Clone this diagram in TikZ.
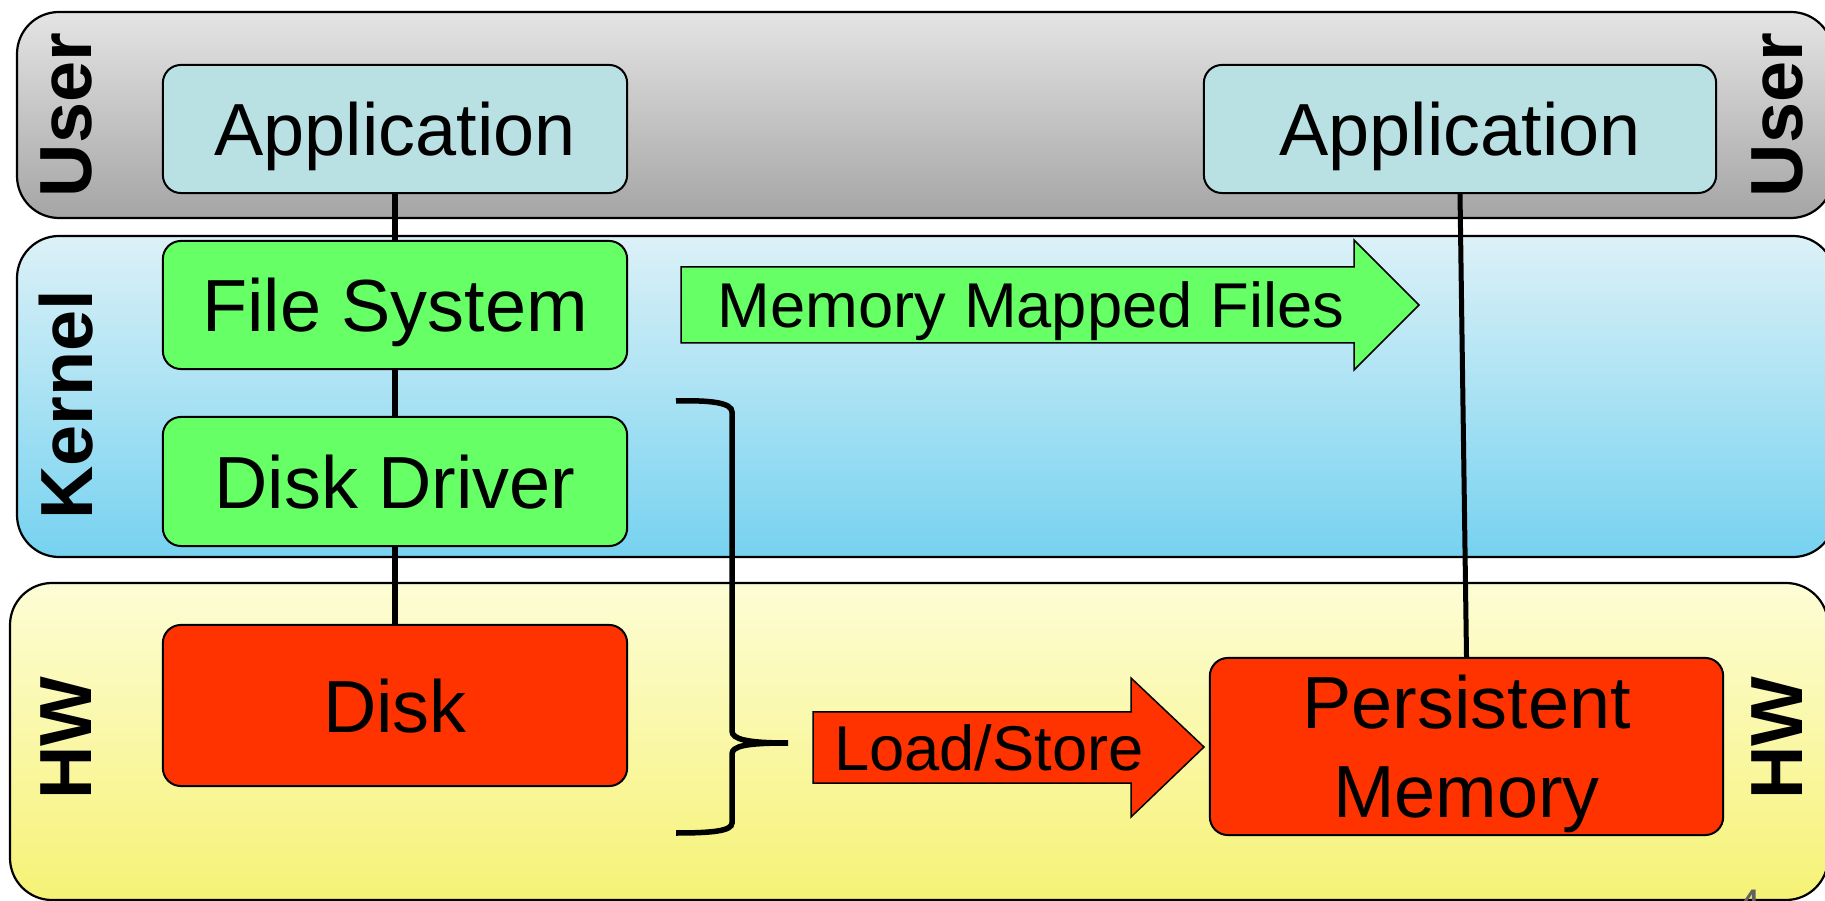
\documentclass[tikz,border=0pt]{standalone}
\usepackage{fontspec}
\setmainfont{Liberation Sans}

\definecolor{usertop}{RGB}{228,228,228}
\definecolor{userbot}{RGB}{165,165,165}
\definecolor{kerntop}{RGB}{220,241,247}
\definecolor{kernbot}{RGB}{118,210,240}
\definecolor{hwtop}{RGB}{253,253,214}
\definecolor{hwbot}{RGB}{246,242,118}
\definecolor{appfill}{RGB}{185,224,227}
\definecolor{kernfill}{RGB}{102,255,102}
\definecolor{hwfill}{RGB}{255,51,0}

\begin{document}
\begin{tikzpicture}[x=0.01cm,y=-0.01cm]
    \tikzstyle{band}=[draw=black, line width=0.022cm, rounded corners=0.42cm]
    \tikzstyle{box}=[draw=black, line width=0.02cm, rounded corners=0.18cm,
        inner sep=0pt, text depth=0pt, align=center,
        font=\fontsize{21}{25.3}\selectfont]
    \tikzstyle{side}=[rotate=90, inner sep=0pt, text depth=0pt,
        font=\fontsize{21}{25}\selectfont\bfseries]
    \tikzstyle{blockarrow}=[draw=black, line width=0.015cm]
    \tikzstyle{arrowtext}=[inner sep=0pt, text depth=0pt,
        font=\fontsize{18}{22}\selectfont]
    \useasboundingbox (0,0) rectangle (1825,901);
    % layers
    \draw [band, top color=usertop, bottom color=userbot] (17,12) rectangle (1833,218);
    \draw [band, top color=kerntop, bottom color=kernbot] (17,236) rectangle (1835,557);
    \draw [band, top color=hwtop, bottom color=hwbot] (10,583) rectangle (1828,900);
    \node [side] (userl) at (66,115) {User};
    \node [side] (kernl) at (66,405) {Kernel};
    \node [side] (hwl) at (66,738) {HW};
    \node [side] (userr) at (1777,115) {User};
    \node [side] (hwr) at (1777,738) {HW};
    % boxes
    \node [box, fill=appfill, minimum width=4.64cm, minimum height=1.28cm] (app1) at (395,129) {Application};
    \node [box, fill=kernfill, minimum width=4.64cm, minimum height=1.28cm] (fs) at (395,305) {File System};
    \node [box, fill=kernfill, minimum width=4.64cm, minimum height=1.29cm] (drv) at (395,481.5) {Disk Driver};
    \node [box, fill=hwfill, minimum width=4.64cm, minimum height=1.61cm] (disk) at (395,705.5) {Disk};
    \node [box, fill=appfill, minimum width=5.12cm, minimum height=1.28cm] (app2) at (1460,129) {Application};
    \node [box, fill=hwfill, minimum width=5.13cm, minimum height=1.77cm] (pmem) at (1466.5,746.5) {Persistent\\Memory};
    % stack lines
    \draw [black, line width=0.055cm] (app1.south) -- (fs.north);
    \draw [black, line width=0.055cm] (fs.south) -- (drv.north);
    \draw [black, line width=0.055cm] (drv.south) -- (disk.north);
    \draw [black, line width=0.05cm] (app2.south) -- (pmem.north);
    % block arrows
    \draw [blockarrow, fill=kernfill] (681,267) -- (1354,267) -- (1354,240) -- (1419,305)
        -- (1354,370) -- (1354,343) -- (681,343) -- cycle;
    \node [arrowtext] (mmf) at (1031,305) {Memory Mapped Files};
    \draw [blockarrow, fill=hwfill] (813,712) -- (1131,712) -- (1131,678) -- (1204,747)
        -- (1131,817) -- (1131,783) -- (813,783) -- cycle;
    \node [arrowtext] (ls) at (989,748) {Load/Store};
    % brace
    \draw [black, line width=0.055cm] (676,401) .. controls (712,400) and (732,403) .. (732,412)
        -- (732,731) .. controls (732,739) and (746,743) .. (788,743)
        .. controls (746,743) and (732,746) .. (732,754)
        -- (732,823) .. controls (732,831) and (712,833) .. (676,833);
    % page number
    \node [anchor=north, inner sep=0pt, text=black!62, font=\fontsize{13}{15}\selectfont] (pg) at (1749,889) {4};
\end{tikzpicture}
\end{document}
